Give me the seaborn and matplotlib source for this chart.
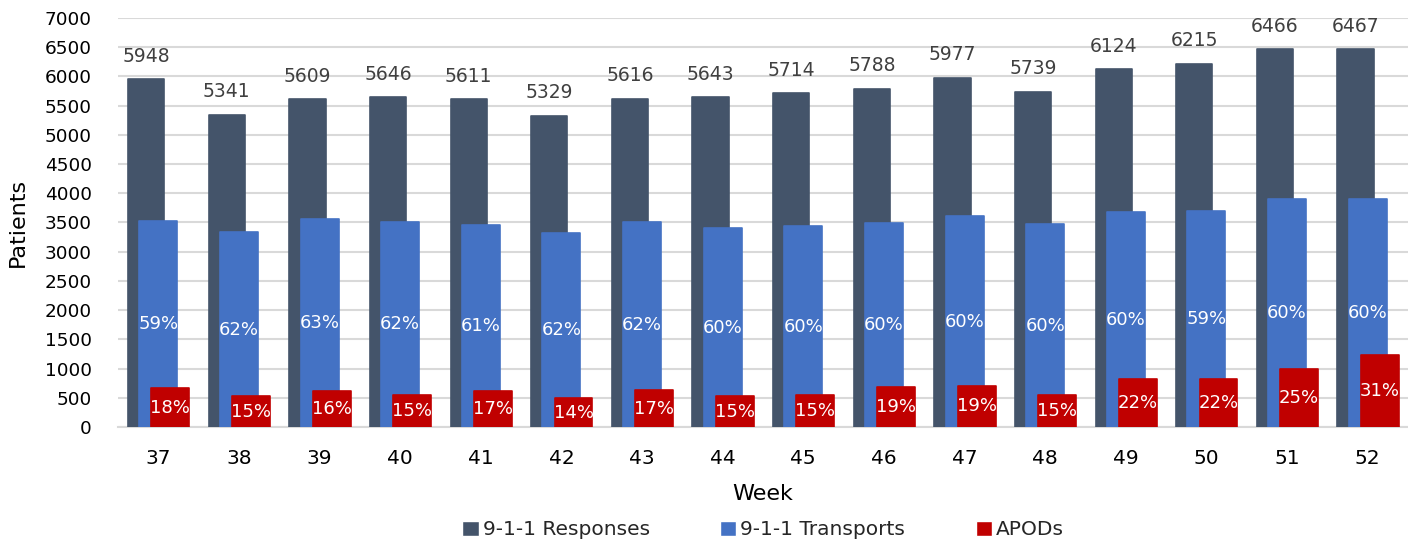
import matplotlib
matplotlib.use("Agg")
import matplotlib.pyplot as plt
import seaborn as sns
import pandas as pd
from matplotlib.patches import Patch

weeks = ["37", "38", "39", "40", "41", "42", "43", "44", "45", "46", "47", "48", "49", "50", "51", "52"]
responses = [5948, 5341, 5609, 5646, 5611, 5329, 5616, 5643, 5714, 5788, 5977, 5739, 6124, 6215, 6466, 6467]
transports = [3530, 3335, 3555, 3510, 3450, 3328, 3505, 3400, 3440, 3490, 3605, 3470, 3680, 3695, 3900, 3900]
apods = [660, 530, 610, 540, 610, 490, 630, 530, 540, 680, 710, 540, 830, 820, 990, 1230]
transport_pct = ["59%", "62%", "63%", "62%", "61%", "62%", "62%", "60%", "60%", "60%", "60%", "60%", "60%", "59%", "60%", "60%"]
apod_pct = ["18%", "15%", "16%", "15%", "17%", "14%", "17%", "15%", "15%", "19%", "19%", "15%", "22%", "22%", "25%", "31%"]

C_RESP = "#44546A"
C_TRAN = "#4472C4"
C_APOD = "#C00000"

df = pd.DataFrame({"Week": weeks, "Responses": responses,
                   "Transports": transports, "APODs": apods})

sns.set_theme(style="white")
plt.rcParams["font.family"] = ["DejaVu Sans"]

fig = plt.figure(figsize=(14.08, 5.44), dpi=100)
ax = fig.add_axes([0.0838, 0.215, 0.9162, 0.752])

# three overlapping bar series, each shifted slightly within the week slot
series = [("Responses", C_RESP, 0.45, -0.15),
          ("Transports", C_TRAN, 0.47, 0.0),
          ("APODs", C_APOD, 0.47, 0.15)]
groups = []
for col, color, width, offset in series:
    n_before = len(ax.patches)
    sns.barplot(data=df, x="Week", y=col, color=color, width=width,
                saturation=1, ax=ax, zorder=3)
    bars = ax.patches[n_before:]
    for b in bars:
        b.set_x(b.get_x() + offset)
        b.set_edgecolor(color)
        b.set_linewidth(1.2)
        b.set_joinstyle("round")
    groups.append(bars)

resp_bars, tran_bars, apod_bars = groups

for b, v in zip(resp_bars, responses):
    ax.text(b.get_x() + b.get_width() / 2, v + 230, str(v), ha="center",
            va="bottom", fontsize=13.5, color="#404040", zorder=5)
for b, v, t in zip(tran_bars, transports, transport_pct):
    ax.text(b.get_x() + b.get_width() / 2, v / 2, t, ha="center",
            va="center", fontsize=13, color="white", zorder=5)
for b, v, t in zip(apod_bars, apods, apod_pct):
    ax.text(b.get_x() + b.get_width() / 2, v / 2, t, ha="center",
            va="center", fontsize=13, color="white", zorder=5)

ax.set_ylim(0, 7000)
ax.set_xlim(-0.5, len(weeks) - 0.5)
ax.set_yticks(range(0, 7001, 500))
ax.yaxis.grid(True, color="#D9D9D9", linewidth=1.5, zorder=0)
ax.xaxis.grid(False)
for s in ["top", "right", "left"]:
    ax.spines[s].set_visible(False)
ax.spines["bottom"].set_color("#D9D9D9")
ax.spines["bottom"].set_linewidth(1.5)
ax.tick_params(axis="both", length=0, colors="black")
ax.tick_params(axis="x", pad=16, labelsize=14.5)
ax.tick_params(axis="y", pad=19, labelsize=13.3)
ax.set_xlabel("Week", fontsize=16, color="black", labelpad=11)
ax.set_ylabel("Patients", fontsize=16, color="black", labelpad=12)

handles = [Patch(facecolor=C_RESP, label="9-1-1 Responses"),
           Patch(facecolor=C_TRAN, label="9-1-1 Transports"),
           Patch(facecolor=C_APOD, label="APODs")]
fig.legend(handles=handles, loc="lower center", bbox_to_anchor=(0.542, -0.025),
           ncol=3, frameon=False, fontsize=14.5, handlelength=0.8,
           handleheight=0.8, handletextpad=0.2, columnspacing=3.5)

fig.savefig("out.png", dpi=100)
